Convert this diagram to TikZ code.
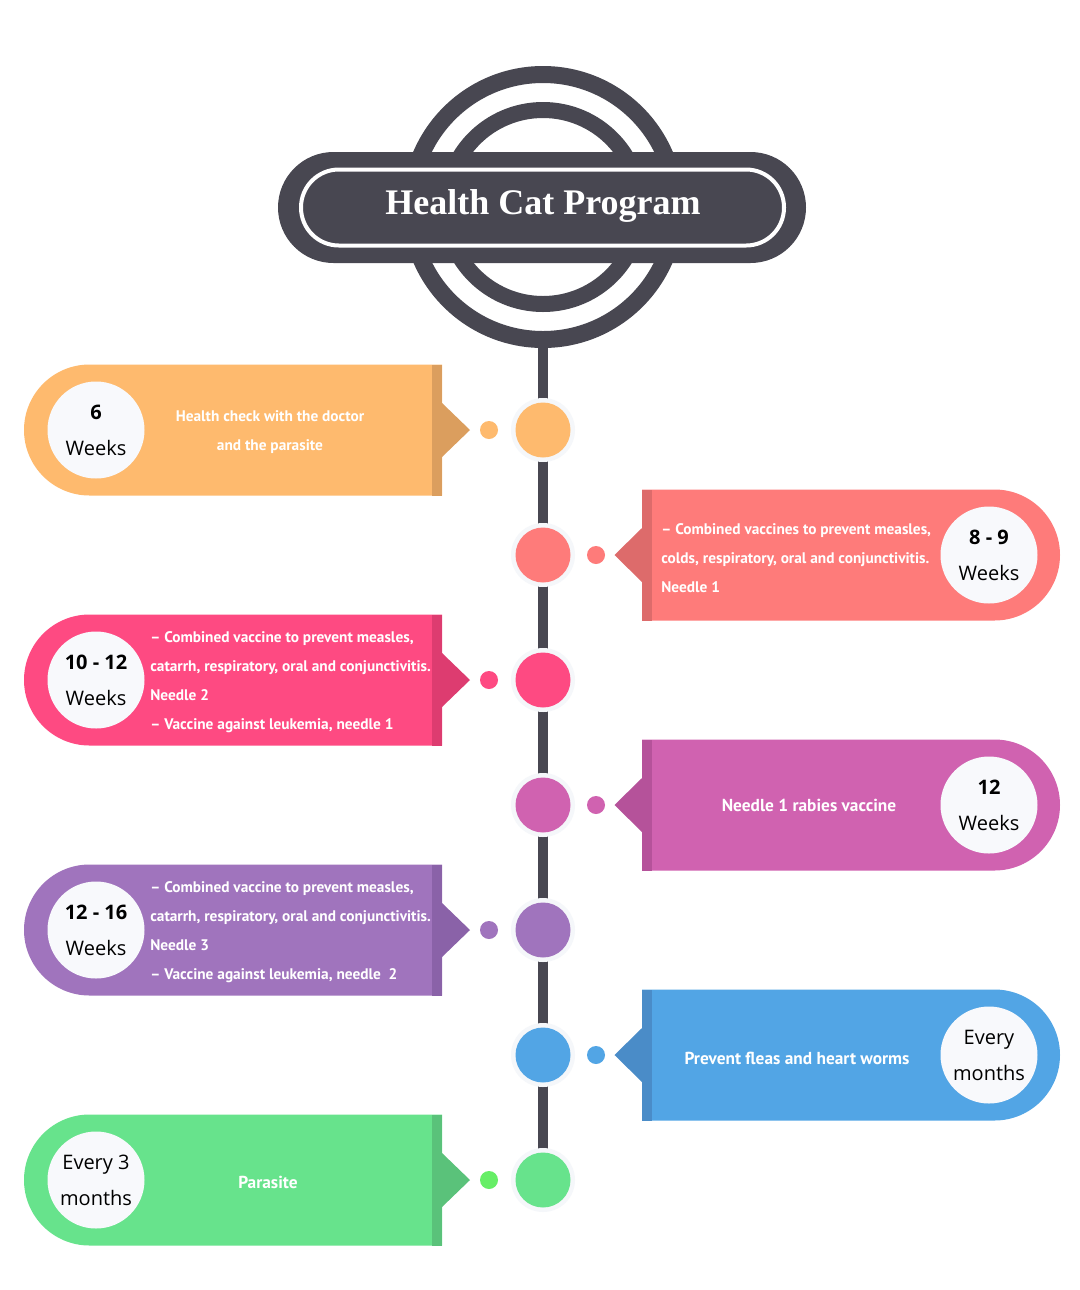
\documentclass[tikz,border=0pt]{standalone}
\usepackage{fontspec}
\newfontfamily\titlefont{Liberation Serif}
\newfontfamily\numfont{Open Sans}
\newfontfamily\cardfont{PT Sans}
\definecolor{darkgray}{HTML}{484751}
\definecolor{ringgray}{HTML}{F5F7FA}
\definecolor{circwhite}{HTML}{F8F9FC}
\definecolor{orangeM}{HTML}{FEBA6E}\definecolor{orangeD}{HTML}{DB9E5E}
\definecolor{salmonM}{HTML}{FE7B7A}\definecolor{salmonD}{HTML}{DD6B6B}
\definecolor{pinkM}{HTML}{FE4A82}\definecolor{pinkD}{HTML}{DD3C70}
\definecolor{magM}{HTML}{D062B0}\definecolor{magD}{HTML}{B5529A}
\definecolor{purM}{HTML}{A074BD}\definecolor{purD}{HTML}{8A62A8}
\definecolor{bluM}{HTML}{52A5E5}\definecolor{bluD}{HTML}{4A8CC8}
\definecolor{grnM}{HTML}{67E38C}\definecolor{grnD}{HTML}{5AC27A}\definecolor{grnDot}{HTML}{66EE66}
\tikzset{
  dotc/.style={circle, inner sep=0pt, minimum size=13.5pt},
  bigc/.style={circle, inner sep=0pt, minimum size=41.25pt},
  ringc/.style={circle, inner sep=0pt, minimum size=48pt, fill=ringgray},
  whitec/.style={circle, inner sep=0pt, minimum size=72.75pt, fill=circwhite},
  numtext/.style={align=center, text=black, inner sep=0pt, font=\numfont\fontsize{15}{27}\selectfont},
  cardtext/.style={text=white, inner sep=0pt, font=\cardfont\bfseries\fontsize{11.5}{21.75}\selectfont},
  bigcardtext/.style={font=\cardfont\bfseries\fontsize{13}{21.75}\selectfont},
  stemline/.style={draw=darkgray, line width=7.5pt},
}
% #1 name, #2 y, #3 main, #4 dark, #5 dot colour, #6 circle text, #7 text opts, #8 text pos, #9 text
\newcommand{\leftcard}[9]{%
\begin{scope}[shift={(0,-#2)}]
  \fill[#3] (442,65.5) -- (89.5,65.5) arc[start angle=90,end angle=270,radius=65.5] -- (442,-65.5) -- cycle;
  \fill[#4] (432,65.5) rectangle (442,-65.5);
  \fill[#4] (442,27) -- (470,0) -- (442,-27) -- cycle;
  \node[dotc, fill=#5] (#1dot) at (489,0) {};
  \node[ringc] (#1ring) at (543,0) {};
  \node[bigc, fill=#3] (#1big) at (543,0) {};
  \node[whitec] (#1circ) at (96,0) {};
  \node[numtext] (#1num) at (96,0) {#6};
  \node[cardtext,#7] (#1text) at (#8) {#9};
\end{scope}}
\newcommand{\rightcard}[9]{%
\begin{scope}[shift={(0,-#2)}]
  \fill[#3] (642,65.5) -- (994.5,65.5) arc[start angle=90,end angle=-90,radius=65.5] -- (642,-65.5) -- cycle;
  \fill[#4] (642,65.5) rectangle (652,-65.5);
  \fill[#4] (642,27) -- (614.5,0) -- (642,-27) -- cycle;
  \node[dotc, fill=#5] (#1dot) at (596,0) {};
  \node[ringc] (#1ring) at (543,0) {};
  \node[bigc, fill=#3] (#1big) at (543,0) {};
  \node[whitec] (#1circ) at (989,0) {};
  \node[numtext] (#1num) at (989,0) {#6};
  \node[cardtext,#7] (#1text) at (#8) {#9};
\end{scope}}
\begin{document}
\begin{tikzpicture}[x=0.75pt,y=0.75pt]
\useasboundingbox (0,0) rectangle (1080,-1290);
\fill[white] (0,0) rectangle (1080,-1290);
% stem
\coordinate (stemtop) at (543,-340);
\coordinate (stembot) at (543,-1180);
\draw[stemline] (stemtop) -- (stembot);
% title emblem
\draw[darkgray, line width=12.75pt] (543,-207) circle[radius=132.5];
\draw[darkgray, line width=12pt] (543,-207) circle[radius=97];
\fill[darkgray, rounded corners=41.6pt] (278,-152) rectangle (806,-263);
\draw[white, line width=3pt, rounded corners=28.4pt] (301,-169.5) rectangle (784,-245.5);
\node[text=white, font=\titlefont\bfseries\fontsize{27}{30}\selectfont, inner sep=0pt] (title) at (543,-206) {Health Cat Program};
% cards
\leftcard{c1}{430}{orangeM}{orangeD}{orangeM}{{\bfseries 6}\\Weeks}{align=center}{270,-2}{Health check with the doctor\\and the parasite}
\rightcard{c2}{555}{salmonM}{salmonD}{salmonM}{{\bfseries 8 - 9}\\Weeks}{align=left,anchor=west}{661,-3}{– Combined vaccines to prevent measles,\\colds, respiratory, oral and conjunctivitis.\\Needle 1}
\leftcard{c3}{680}{pinkM}{pinkD}{pinkM}{{\bfseries 10 - 12}\\Weeks}{align=left,anchor=west}{150,-2}{– Combined vaccine to prevent measles,\\catarrh, respiratory, oral and conjunctivitis.\\Needle 2\\– Vaccine against leukemia, needle 1}
\rightcard{c4}{805}{magM}{magD}{magM}{{\bfseries 12}\\Weeks}{align=center,bigcardtext}{809,0}{Needle 1 rabies vaccine}
\leftcard{c5}{930}{purM}{purD}{purM}{{\bfseries 12 - 16}\\Weeks}{align=left,anchor=west}{150,-2}{– Combined vaccine to prevent measles,\\catarrh, respiratory, oral and conjunctivitis.\\Needle 3\\– Vaccine against leukemia, needle~~2}
\rightcard{c6}{1055}{bluM}{bluD}{bluM}{Every\\months}{align=center,bigcardtext}{797,-3}{Prevent fleas and heart worms}
\leftcard{c7}{1180}{grnM}{grnD}{grnDot}{Every 3\\months}{align=center,bigcardtext}{268,-2}{Parasite}
\end{tikzpicture}
\end{document}
